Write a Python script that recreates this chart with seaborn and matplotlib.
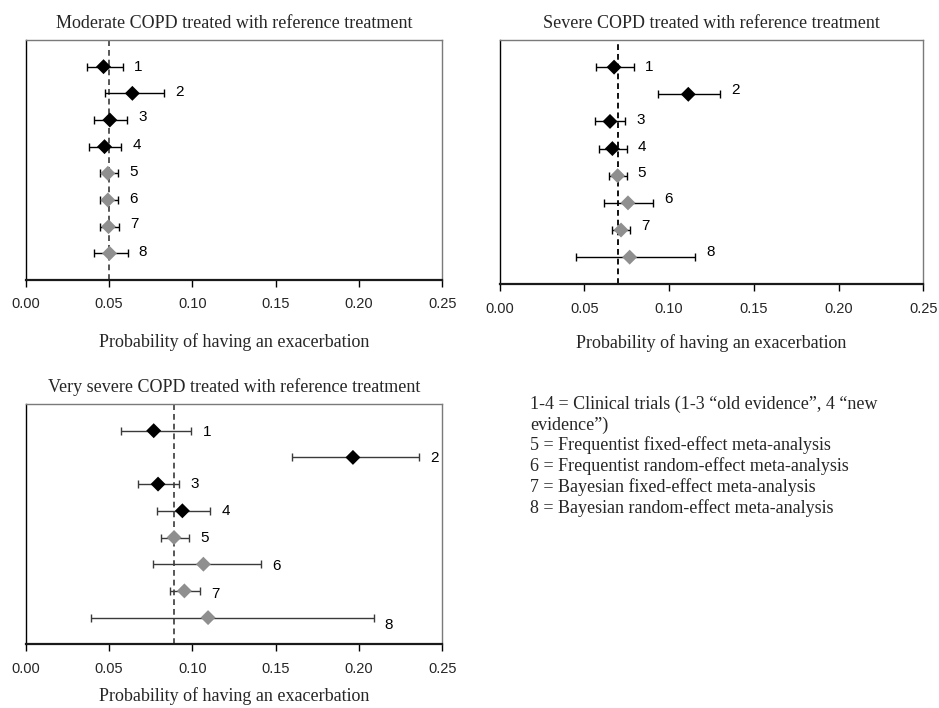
import numpy as np
import pandas as pd
import matplotlib
matplotlib.use("Agg")
import matplotlib.pyplot as plt
import seaborn as sns

# Estimates (point, lower, upper) for the eight sources in each severity group
sources = [1, 2, 3, 4, 5, 6, 7, 8]
kind = ["trial", "trial", "trial", "trial", "meta", "meta", "meta", "meta"]

moderate_est = [0.0468, 0.0641, 0.0506, 0.0474, 0.0494, 0.0494, 0.0498, 0.0504]
moderate_lo = [0.0368, 0.0474, 0.0410, 0.0380, 0.0444, 0.0444, 0.0444, 0.0410]
moderate_hi = [0.0582, 0.0833, 0.0610, 0.0574, 0.0556, 0.0556, 0.0560, 0.0613]
moderate_ref = 0.05

severe_est = [0.0675, 0.1113, 0.0651, 0.0665, 0.0696, 0.0757, 0.0716, 0.0767]
severe_lo = [0.0570, 0.0936, 0.0561, 0.0584, 0.0643, 0.0618, 0.0665, 0.0452]
severe_hi = [0.0791, 0.1300, 0.0742, 0.0749, 0.0749, 0.0905, 0.0771, 0.1155]
severe_ref = 0.07

vsevere_est = [0.0769, 0.1964, 0.0795, 0.0941, 0.0891, 0.1067, 0.0953, 0.1095]
vsevere_lo = [0.0572, 0.1599, 0.0677, 0.0789, 0.0811, 0.0765, 0.0865, 0.0394]
vsevere_hi = [0.0995, 0.2360, 0.0923, 0.1109, 0.0981, 0.1411, 0.1045, 0.2088]
vsevere_ref = 0.089

titles = [
    "Moderate COPD treated with reference treatment",
    "Severe COPD treated with reference treatment",
    "Very severe COPD treated with reference treatment",
]
x_label = "Probability of having an exacerbation"
x_ticks = [0.00, 0.05, 0.10, 0.15, 0.20, 0.25]
x_ticklabels = ["0.00", "0.05", "0.10", "0.15", "0.20", "0.25"]

legend_lines = [
    "1-4 = Clinical trials (1-3 \u201cold evidence\u201d, 4 \u201cnew",
    "evidence\u201d)",
    "5 = Frequentist fixed-effect meta-analysis",
    "6 = Frequentist random-effect meta-analysis",
    "7 = Bayesian fixed-effect meta-analysis",
    "8 = Bayesian random-effect meta-analysis",
]

sns.set_theme(style="white")
plt.rcParams["font.family"] = ["Liberation Sans", "DejaVu Sans"]
serif = ["Liberation Serif", "DejaVu Serif"]

W, H = 939, 708
fig = plt.figure(figsize=(W / 100, H / 100), dpi=100)


def px_axes(left, top, right, bottom):
    return fig.add_axes([left / W, 1 - bottom / H, (right - left) / W, (bottom - top) / H])


panels = [
    dict(ax=px_axes(25.5, 40, 442.3, 280), est=moderate_est, lo=moderate_lo, hi=moderate_hi,
         ref=moderate_ref, title=titles[0], bar="black", refc="#4a4a4a",
         dy=[1, 2, 3, 2, 2, 2, 3, 2], xpad=15.5),
    dict(ax=px_axes(499.7, 40, 923.3, 284.3), est=severe_est, lo=severe_lo, hi=severe_hi,
         ref=severe_ref, title=titles[1], bar="black", refc="black",
         dy=[1, 4, 2, 2, 3, 4, 4, 5], xpad=13),
    dict(ax=px_axes(25.5, 404, 442.3, 644.3), est=vsevere_est, lo=vsevere_lo, hi=vsevere_hi,
         ref=vsevere_ref, title=titles[2], bar="#3a3a3a", refc="#4a4a4a",
         dy=[0, 1, 1, 1, 1, 0, -1, -4], xpad=8.5),
]

palette = {"trial": "black", "meta": "#8f8f8f"}

for p in panels:
    ax = p["ax"]
    df = pd.DataFrame({"source": sources, "kind": kind, "est": p["est"],
                       "lo": p["lo"], "hi": p["hi"]})

    ax.axvline(p["ref"], color=p["refc"], lw=1.3, ls=(0, (3.2, 2.2)), zorder=1)

    ax.errorbar(df["est"], df["source"],
                xerr=[df["est"] - df["lo"], df["hi"] - df["est"]],
                fmt="none", ecolor=p["bar"], elinewidth=1.0, capsize=3.2,
                capthick=1.0, zorder=2)

    sns.scatterplot(data=df, x="est", y="source", hue="kind", palette=palette,
                    marker="D", s=58, linewidth=0, legend=False, ax=ax, zorder=3)

    for src, hi, dy in zip(df["source"], df["hi"], p["dy"]):
        ax.annotate(str(src), xy=(hi, src), xytext=(8, dy), textcoords="offset points",
                    ha="left", va="center_baseline", fontsize=11, color="black")

    ax.set_xlim(0, 0.25)
    ax.set_ylim(9, 0)
    ax.set_yticks([])
    ax.set_xticks(x_ticks)
    ax.set_xticklabels(x_ticklabels, fontsize=10.5)
    ax.tick_params(axis="x", direction="out", length=5, width=1.0, color="black",
                   pad=7.5, bottom=True)
    ax.set_xlabel(x_label, family=serif, fontsize=13, labelpad=p["xpad"])
    ax.set_ylabel("")
    ax.set_title(p["title"], family=serif, fontsize=13, pad=9)

    for side in ["top", "right"]:
        ax.spines[side].set_color("#7a7a7a")
        ax.spines[side].set_linewidth(1.0)
    ax.spines["left"].set_color("black")
    ax.spines["left"].set_linewidth(1.0)
    ax.spines["bottom"].set_color("#1a1a1a")
    ax.spines["bottom"].set_linewidth(1.6)
    ax.set_facecolor("white")

fig.text(530 / W, 1 - 396 / H, "\n".join(legend_lines), family=serif, fontsize=13,
         ha="left", va="top", linespacing=1.22)

fig.savefig("out.png", dpi=100, facecolor="white")
